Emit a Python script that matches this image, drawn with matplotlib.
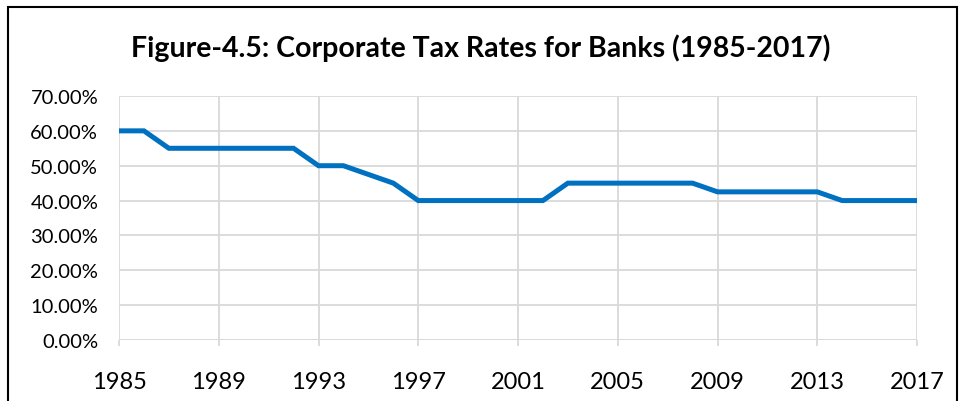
import numpy as np
import matplotlib.pyplot as plt
from matplotlib.patches import Rectangle
from matplotlib.ticker import PercentFormatter

years = list(range(1985, 2018))
tax_rate = [60, 60, 55, 55, 55, 55, 55, 55, 50, 50, 47.5, 45, 40,
            40, 40, 40, 40, 40, 45, 45, 45, 45, 45, 45, 42.5, 42.5,
            42.5, 42.5, 42.5, 40, 40, 40, 40]
tick_years = [1985, 1989, 1993, 1997, 2001, 2005, 2009, 2013, 2017]

plt.rcParams['font.family'] = ['Lato', 'DejaVu Sans']

fig = plt.figure(figsize=(9.61, 4.02), dpi=100)
ax = fig.add_axes([119 / 961, 1 - 341 / 402, 798 / 961, 244 / 402])

ax.plot(years, tax_rate, color='#0070c0', linewidth=3.6, solid_joinstyle='miter')

ax.set_xlim(1985, 2017)
ax.set_ylim(0, 70)
ax.set_xticks(tick_years)
ax.set_yticks(np.arange(0, 71, 10))
ax.yaxis.set_major_formatter(PercentFormatter(decimals=2))

ax.grid(True, color='#d9d9d9', linewidth=1.3)
ax.set_axisbelow(True)
for s in ax.spines.values():
    s.set_visible(False)
ax.tick_params(axis='x', length=4.5, color='#d9d9d9', width=1.3, pad=18, labelsize=17)
ax.tick_params(axis='y', length=0, pad=15, labelsize=14.5)
ax.axhline(0, color='#d9d9d9', linewidth=1.3, zorder=1)

fig.text(0.5, 1 - 48 / 402, 'Figure-4.5: Corporate Tax Rates for Banks (1985-2017)',
         ha='center', va='center', fontsize=20.5, fontweight='bold')

fig.patches.append(Rectangle((8 / 961, -0.1), 949 / 961, 1 - 8 / 402 + 0.1,
                             transform=fig.transFigure, fill=False,
                             edgecolor='black', linewidth=1.5))

fig.savefig('out.png', dpi=100)
